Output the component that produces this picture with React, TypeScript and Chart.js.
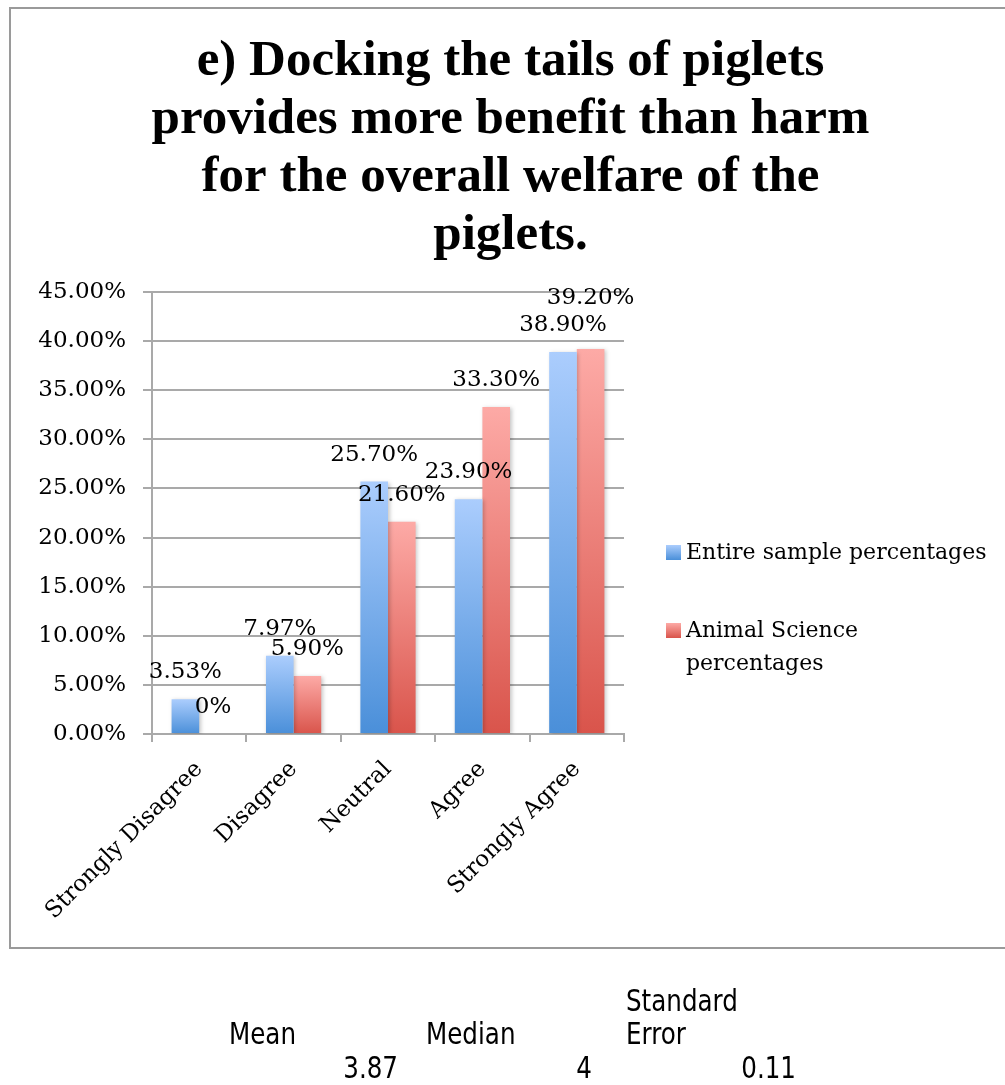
import React, { useEffect, useRef } from "react";
import { Chart, registerables } from "chart.js";

Chart.register(...registerables);

// ---- data ----
const categories = ["Strongly Disagree", "Disagree", "Neutral", "Agree", "Strongly Agree"];
const entireSample = [3.53, 7.97, 25.7, 23.9, 38.9];
const animalScience = [0, 5.9, 21.6, 33.3, 39.2];
const seriesNames = ["Entire sample percentages", "Animal Science percentages"];
const titleLines = [
  "e) Docking the tails of piglets",
  "provides more benefit than harm",
  "for the overall welfare of the",
  "piglets.",
];
const yMax = 45;
const yStep = 5;
const statHeaders = [["Mean"], ["Median"], ["Standard", "Error"]];
const statValues = ["3.87", "4", "0.11"];

// ---- styles ----
const W = 1005;
const H = 1085;
const SERIF = '"DejaVu Serif", serif';
const GRID = "#a9a9a9";
const blueStops = ["#abcdfd", "#4a8fd9"];
const redStops = ["#fdaaa6", "#d9544b"];

const fmtPct = (v: number) => (v === 0 ? "0%" : v.toFixed(2) + "%");

function barGradient(stops: string[]) {
  return (ctx: any) => {
    const chart = ctx.chart;
    if (!chart.chartArea || ctx.type !== "data") return stops[1];
    const y = chart.scales.y;
    const top = y.getPixelForValue(ctx.raw as number);
    const base = y.getPixelForValue(0);
    if (Math.abs(base - top) < 1) return stops[1];
    const g = chart.ctx.createLinearGradient(0, top, 0, base);
    g.addColorStop(0, stops[0]);
    g.addColorStop(1, stops[1]);
    return g;
  };
}

// soft shadow under the bars, then value labels above them
const valueLabels = {
  id: "valueLabels",
  beforeDatasetsDraw(chart: any) {
    const c = chart.ctx;
    c.save();
    c.shadowColor = "rgba(0,0,0,0.22)";
    c.shadowBlur = 4;
    c.shadowOffsetX = 1.5;
    c.shadowOffsetY = 1;
  },
  afterDatasetsDraw(chart: any) {
    const c = chart.ctx;
    c.restore();
    c.save();
    c.font = `23px ${SERIF}`;
    c.fillStyle = "#000";
    c.textAlign = "center";
    c.textBaseline = "middle";
    const lh = 27;
    const placed: { x: number; y: number; w: number }[] = [];
    chart.data.datasets.forEach((ds: any, di: number) => {
      const meta = chart.getDatasetMeta(di);
      meta.data.forEach((el: any, i: number) => {
        const text = fmtPct(ds.data[i]);
        const w = c.measureText(text).width;
        const x = el.x;
        let y = el.y - 27;
        let moved = true;
        while (moved) {
          moved = false;
          for (const p of placed) {
            if (Math.abs(p.x - x) < (p.w + w) / 2 && Math.abs(p.y - y) < lh * 0.6) {
              y = p.y - lh;
              moved = true;
            }
          }
        }
        placed.push({ x, y, w });
        c.fillText(text, x, y);
      });
    });
    c.restore();
  },
};

// outer frame, legend at the right and the summary statistics below
const decorations = {
  id: "decorations",
  beforeDraw(chart: any) {
    const c = chart.ctx;
    c.save();
    c.fillStyle = "#fff";
    c.fillRect(0, 0, W, H);
    c.strokeStyle = "#9a9a9a";
    c.lineWidth = 2;
    c.strokeRect(10, 8, W + 10, 940);
    c.restore();
  },
  afterDraw(chart: any) {
    const c = chart.ctx;
    const area = chart.chartArea;
    c.save();
    // legend
    c.font = `22px ${SERIF}`;
    c.fillStyle = "#000";
    c.textAlign = "left";
    c.textBaseline = "middle";
    const lx = area.right + 42;
    const tx = lx + 20;
    const maxW = W - tx - 8;
    let y = area.top + 261;
    chart.data.datasets.forEach((ds: any, di: number) => {
      const words = String(ds.label).split(" ");
      const lines: string[] = [];
      let cur = "";
      for (const w of words) {
        const t = cur ? cur + " " + w : w;
        if (cur && c.measureText(t).width > maxW) {
          lines.push(cur);
          cur = w;
        } else cur = t;
      }
      if (cur) lines.push(cur);
      const stops = di === 0 ? blueStops : redStops;
      const g = c.createLinearGradient(0, y - 8, 0, y + 7);
      g.addColorStop(0, stops[0]);
      g.addColorStop(1, stops[1]);
      c.fillStyle = g;
      c.fillRect(lx, y - 8, 15, 15);
      c.fillStyle = "#000";
      lines.forEach((ln, k) => c.fillText(ln, tx, y + k * 33));
      y += lines.length * 33 + 45;
    });

    // summary table
    c.font = '30px "DejaVu Sans", sans-serif';
    const headLeft = [229, 426, 626];
    const valRight = [398, 592, 796];
    const headBottom = 1036;
    statHeaders.forEach((lines, i) => {
      lines.forEach((ln, k) => {
        c.save();
        c.translate(headLeft[i], headBottom - (lines.length - 1 - k) * 33);
        c.scale(0.82, 1);
        c.textAlign = "left";
        c.fillText(ln, 0, 0);
        c.restore();
      });
    });
    statValues.forEach((v, i) => {
      c.save();
      c.translate(valRight[i], 1070);
      c.scale(0.82, 1);
      c.textAlign = "right";
      c.fillText(v, 0, 0);
      c.restore();
    });
    c.restore();
  },
};

export default function App() {
  const ref = useRef<HTMLCanvasElement | null>(null);

  useEffect(() => {
    if (!ref.current) return;
    const chart = new Chart(ref.current, {
      type: "bar",
      data: {
        labels: categories,
        datasets: [
          {
            label: seriesNames[0],
            data: entireSample,
            backgroundColor: barGradient(blueStops),
            borderWidth: 0,
            categoryPercentage: 0.585,
            barPercentage: 1,
          },
          {
            label: seriesNames[1],
            data: animalScience,
            backgroundColor: barGradient(redStops),
            borderWidth: 0,
            categoryPercentage: 0.585,
            barPercentage: 1,
          },
        ],
      },
      options: {
        responsive: false,
        animation: false,
        devicePixelRatio: 1,
        layout: { padding: { left: 16, right: 0, top: 0, bottom: 0 } },
        plugins: {
          legend: { display: false },
          tooltip: { enabled: false },
          title: {
            display: true,
            text: titleLines,
            color: "#000",
            font: { family: '"Liberation Serif", serif', size: 51, weight: "bold", lineHeight: 58 / 51 },
            padding: { top: 33, bottom: 27 },
          },
        },
        scales: {
          x: {
            grid: {
              display: true,
              drawOnChartArea: false,
              drawTicks: true,
              tickLength: 8,
              color: GRID,
              lineWidth: 2,
              offset: true,
            },
            border: { display: true, color: GRID, width: 2 },
            ticks: {
              color: "#000",
              font: { family: SERIF, size: 23 },
              minRotation: 45,
              maxRotation: 45,
              autoSkip: false,
              padding: 14,
            },
            afterFit: (s: any) => {
              s.height = 351;
            },
          },
          y: {
            min: 0,
            max: yMax,
            grid: { color: GRID, lineWidth: 2, drawTicks: true, tickLength: 9 },
            border: { display: true, color: GRID, width: 2 },
            ticks: {
              stepSize: yStep,
              color: "#000",
              font: { family: SERIF, size: 23 },
              padding: 17,
              callback: (v: any) => Number(v).toFixed(2) + "%",
            },
            afterFit: (s: any) => {
              s.width = 136;
            },
          },
          side: {
            type: "linear",
            position: "right",
            display: true,
            grid: { display: false, drawTicks: false },
            border: { display: false },
            ticks: { display: false },
            afterFit: (s: any) => {
              s.width = 381;
            },
          },
        },
      } as any,
      plugins: [decorations, valueLabels],
    });
    return () => chart.destroy();
  }, []);

  return (
    <div style={{ position: "absolute", left: 0, top: 0, width: W, height: H }}>
      <canvas ref={ref} width={W} height={H} style={{ display: "block" }} />
    </div>
  );
}
